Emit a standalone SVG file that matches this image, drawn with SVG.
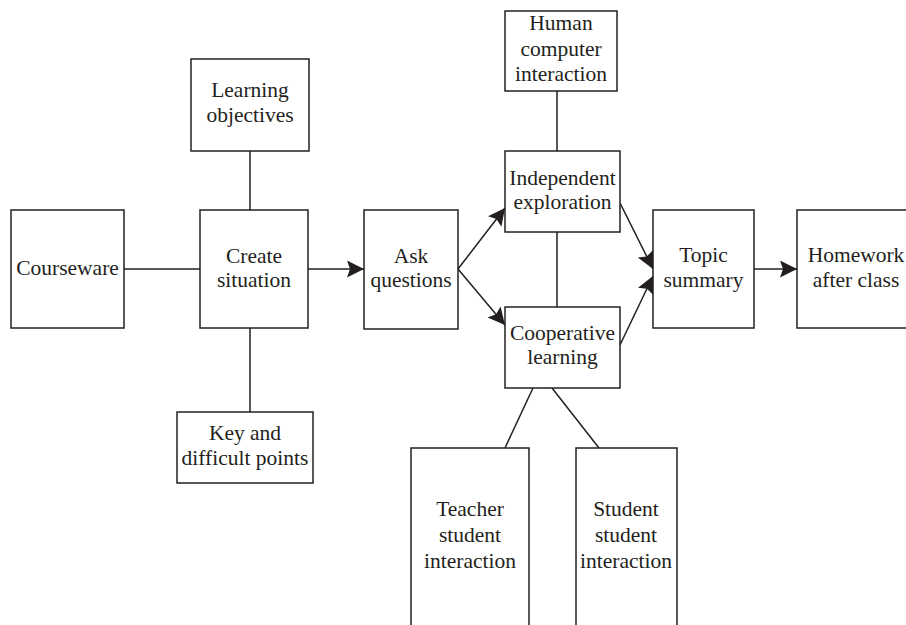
<svg xmlns="http://www.w3.org/2000/svg" width="906" height="625" viewBox="0 0 906 625">
<style>
.box{fill:#fff;stroke:#231f20;stroke-width:1.5}
.t{font-family:"Liberation Serif","Times New Roman",serif;font-size:21.5px;fill:#231f20;text-anchor:middle}
.ln{stroke:#231f20;stroke-width:1.5;fill:none}
.ar{marker-end:url(#ah)}
</style>
<defs>
<marker id="ah" markerUnits="userSpaceOnUse" markerWidth="20" markerHeight="20" refX="17" refY="8.5" orient="auto">
<path d="M0,0 L17,8.5 L0,17 L3,8.5 Z" fill="#231f20"/>
</marker>
</defs>
<rect width="906" height="625" fill="#fff"/>
<g id="connectors">
<line class="ln" x1="124" y1="269" x2="200" y2="269"/>
<line class="ln" x1="250" y1="151" x2="250" y2="210"/>
<line class="ln" x1="250" y1="328" x2="250" y2="412"/>
<line class="ln ar" x1="308" y1="269" x2="364" y2="269"/>
<line class="ln ar" x1="458" y1="269" x2="505" y2="208"/>
<line class="ln ar" x1="458" y1="269" x2="505" y2="325"/>
<line class="ln" x1="557" y1="91" x2="557" y2="151"/>
<line class="ln" x1="557" y1="232" x2="557" y2="307"/>
<line class="ln ar" x1="620" y1="203" x2="653" y2="269"/>
<line class="ln ar" x1="620" y1="345" x2="653" y2="276"/>
<line class="ln ar" x1="754" y1="269" x2="797" y2="269"/>
<line class="ln" x1="533" y1="388" x2="505" y2="448"/>
<line class="ln" x1="552" y1="388" x2="599" y2="448"/>
</g>
<g id="courseware">
<rect class="box" x="11" y="210" width="113" height="118"/>
<text class="t" x="67.5" y="275">Courseware</text>
</g>
<g id="create-situation">
<rect class="box" x="200" y="210" width="108" height="118"/>
<text class="t" x="254" y="263">Create</text>
<text class="t" x="254" y="287">situation</text>
</g>
<g id="learning-objectives">
<rect class="box" x="191" y="59" width="118" height="92"/>
<text class="t" x="250" y="97">Learning</text>
<text class="t" x="250" y="122">objectives</text>
</g>
<g id="key-difficult">
<rect class="box" x="177" y="412" width="136" height="71"/>
<text class="t" x="245" y="440">Key and</text>
<text class="t" x="245" y="465">difficult points</text>
</g>
<g id="ask-questions">
<rect class="box" x="364" y="210" width="94" height="119"/>
<text class="t" x="411" y="263">Ask</text>
<text class="t" x="411" y="287">questions</text>
</g>
<g id="human-computer">
<rect class="box" x="505" y="11" width="112" height="80"/>
<text class="t" x="561" y="30">Human</text>
<text class="t" x="561" y="55.5">computer</text>
<text class="t" x="561" y="81">interaction</text>
</g>
<g id="independent-exploration">
<rect class="box" x="505" y="151" width="115" height="81"/>
<text class="t" x="562.5" y="185">Independent</text>
<text class="t" x="562.5" y="209">exploration</text>
</g>
<g id="cooperative-learning">
<rect class="box" x="505" y="307" width="115" height="81"/>
<text class="t" x="562.5" y="340">Cooperative</text>
<text class="t" x="562.5" y="364">learning</text>
</g>
<g id="topic-summary">
<rect class="box" x="653" y="210" width="101" height="118"/>
<text class="t" x="703.5" y="262">Topic</text>
<text class="t" x="703.5" y="287">summary</text>
</g>
<g id="homework">
<rect class="box" x="797" y="210" width="112" height="118"/>
<text class="t" x="856" y="262">Homework</text>
<text class="t" x="856" y="287">after class</text>
</g>
<g id="teacher-student">
<rect class="box" x="411" y="448" width="118" height="190"/>
<text class="t" x="470" y="516">Teacher</text>
<text class="t" x="470" y="542">student</text>
<text class="t" x="470" y="568">interaction</text>
</g>
<g id="student-student">
<rect class="box" x="576" y="448" width="101" height="190"/>
<text class="t" x="626" y="516">Student</text>
<text class="t" x="626" y="542">student</text>
<text class="t" x="626" y="568">interaction</text>
</g>
</svg>
